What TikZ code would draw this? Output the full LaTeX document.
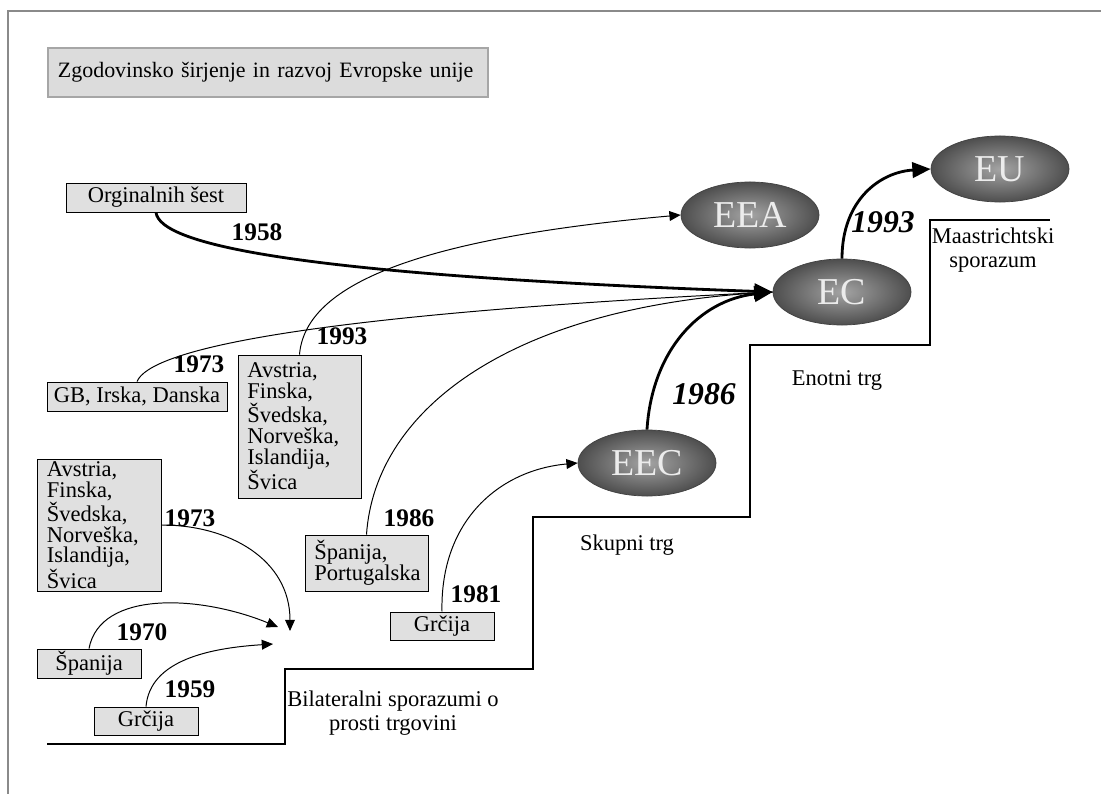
\documentclass[tikz,border=0pt]{standalone}
\usepackage{fontspec}
\setmainfont{Liberation Serif}
\usetikzlibrary{arrows.meta,shapes.geometric}
\definecolor{boxgray}{HTML}{E0E0E0}
\definecolor{titlegray}{HTML}{DCDCDC}
\definecolor{framegray}{HTML}{8A8A8A}
\definecolor{blobout}{HTML}{4E4E4E}
\definecolor{blobin}{HTML}{A4A4A4}
\definecolor{blobtext}{HTML}{ECECEC}
\begin{document}
\begin{tikzpicture}[x=0.025cm,y=-0.025cm,
  framel/.style={draw=framegray, line width=1.1pt},
  titlebox/.style={draw=gray!70, line width=0.9pt, fill=titlegray, inner xsep=0.25cm, inner ysep=0pt,
    minimum width=11cm, minimum height=1.225cm, text width=10.5cm, align=left,
    font=\fontsize{15.6}{18}\selectfont},
  box/.style={draw=black, line width=0.6pt, fill=boxgray, inner ysep=0pt, inner xsep=0pt,
    font=\fontsize{16}{14.8}\selectfont},
  cbox/.style={box, align=center, minimum height=0.725cm},
  blob/.style={ellipse, draw=black!75, line width=0.5pt, inner sep=0pt,
    minimum width=3.45cm, minimum height=1.65cm,
    shade, shading=radial, inner color=blobin, outer color=blobout,
    text=blobtext, font=\fontsize{27}{27}\selectfont},
  stair/.style={line width=2pt, line join=miter},
  thinline/.style={line width=0.7pt},
  thinarrow/.style={line width=0.7pt, -{Triangle[length=8pt,width=7pt]}},
  thickline/.style={line width=2pt},
  thickarrow/.style={line width=2pt, -{Triangle[length=13pt,width=11pt]}},
  year/.style={inner sep=0pt, font=\bfseries\fontsize{18}{18}\selectfont},
  yearit/.style={inner sep=0pt, font=\bfseries\itshape\fontsize{22.5}{22.5}\selectfont},
  steplabel/.style={inner sep=0pt, align=center, font=\fontsize{16}{17.5}\selectfont}
]
\useasboundingbox (0,0) rectangle (1101,794);
\fill[white] (0,0) rectangle (1101,794);

% slide frame
\coordinate (fbl) at (8,794);
\coordinate (ftl) at (8,11);
\coordinate (ftr) at (1101,11);
\draw[framel] (fbl) -- (ftl) -- (ftr);

% title
\node[titlebox] (title) at (268,72.5) {Zgodovinsko širjenje in razvoj Evropske unije};

% staircase
\draw[stair] (47,744) -- (285,744) -- (285,669) -- (533,669) -- (533,517) -- (750,517)
  -- (750,345) -- (930,345) -- (930,220) -- (1050,220);

% step labels
\node[steplabel] (bil) at (393,713) {Bilateralni sporazumi o\\prosti trgovini};
\node[steplabel] (sku) at (627,545) {Skupni trg};
\node[steplabel] (eno) at (837,380) {Enotni trg};
\node[steplabel] (maa) at (993,250) {Maastrichtski\\sporazum};

% ellipses
\node[blob] (eea) at (750,215) {EEA};
\node[blob] (eu) at (1000,169) {EU};
\node[blob] (ec) at (842,292) {EC};
\node[blob] (eec) at (647,463) {EEC};

% boxes
\node[cbox, minimum width=4.5cm] (orig) at (156,197.5) {Orginalnih šest};
\node[cbox, minimum width=4.5cm] (gb) at (137,396.5) {GB, Irska, Danska};
\node[box, minimum width=3.075cm, minimum height=3.575cm, text width=2.6cm, align=left] (avs2) at (299.5,426.5)
  {Avstria,\\Finska,\\Švedska,\\Norveška,\\Islandija,\\Švica};
\node[box, minimum width=3.1cm, minimum height=3.3cm, text width=2.6cm, align=left] (avs1) at (99,525)
  {Avstria,\\Finska,\\Švedska,\\Norveška,\\Islandija,\\Švica};
\node[cbox, minimum width=2.6cm] (spa1) at (89,663.5) {Španija};
\node[cbox, minimum width=2.6cm, minimum height=0.7cm] (grc1) at (146,721) {Grčija};
\node[box, minimum width=3.075cm, minimum height=1.4cm, text width=2.6cm, align=left] (spp) at (366.5,563)
  {Španija,\\Portugalska};
\node[cbox, minimum width=2.6cm, minimum height=0.7cm] (grc2) at (442,626) {Grčija};

% convergence points of bilateral agreements
\coordinate (t1) at (290,631);
\coordinate (t2) at (278,627);
\coordinate (t3) at (273,644);

% connectors
\draw[thinline] (gb.north) .. controls (150,350) and (300,315) .. (ec.west);
\draw[thinline] (spp.north) .. controls (375,410) and (510,305) .. (ec.west);
\draw[thinarrow] (avs2.north) .. controls (305,290) and (400,240) .. (eea.west);
\draw[thickarrow] (orig.south) .. controls (160,245) and (300,275) .. (ec.west);
\draw[thinarrow] (grc2.north) .. controls (440,520) and (500,470) .. (eec.west);
\draw[thickarrow] (eec.north) .. controls (652,350) and (700,300) .. (ec.west);
\draw[thickarrow] (ec.north) .. controls (842,200) and (880,172) .. (eu.west);
\draw[thinarrow] (avs1.east) .. controls (230,525) and (290,560) .. (t1);
\draw[thinarrow] (spa1.north) .. controls (100,590) and (200,595) .. (t2);
\draw[thinarrow] (grc1.north) .. controls (150,660) and (210,648) .. (t3);

% year labels
\node[year] (y1958) at (257,232) {1958};
\node[year] (y1973a) at (199,364) {1973};
\node[year] (y1993a) at (342,336) {1993};
\node[year] (y1973b) at (190,518) {1973};
\node[year] (y1970) at (142,632) {1970};
\node[year] (y1959) at (190,689) {1959};
\node[year] (y1986a) at (409,518) {1986};
\node[year] (y1981) at (476,594) {1981};
\node[yearit] (y1986b) at (704,394) {1986};
\node[yearit] (y1993b) at (883,222) {1993};
\end{tikzpicture}
\end{document}
